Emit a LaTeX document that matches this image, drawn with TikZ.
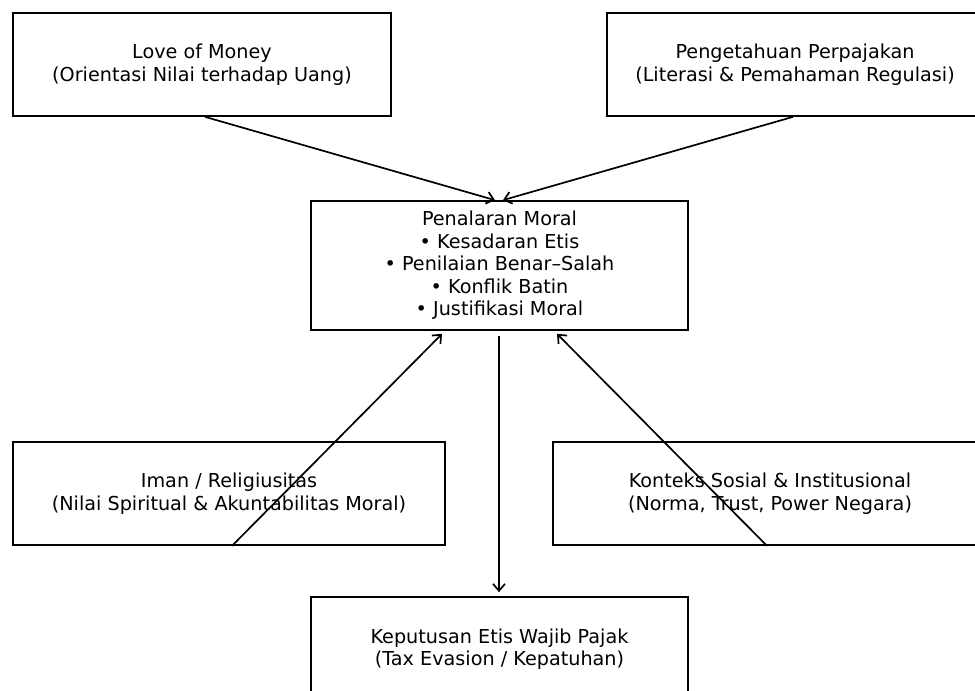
\documentclass[tikz,border=0pt]{standalone}
\usepackage{fontspec}
\setmainfont{DejaVu Sans}
\usetikzlibrary{arrows.meta}
\begin{document}
\begin{tikzpicture}[x=1pt,y=-1pt,
  box/.style={draw=black, line width=1.7pt, rectangle, align=center, inner sep=0pt,
    font=\fontsize{19.2}{22.5}\selectfont},
  conn/.style={line width=1.7pt, -{Straight Barb[length=7pt,width=12pt,line width=1.7pt]}}]
\useasboundingbox (0,0) rectangle (975,691);
\node[box, minimum width=378pt, minimum height=103pt] (love) at (202,64.5)
  {Love of Money\\(Orientasi Nilai terhadap Uang)};
\node[box, minimum width=376pt, minimum height=103pt] (tax) at (795,64.5)
  {Pengetahuan Perpajakan\\(Literasi \& Pemahaman Regulasi)};
\node[box, minimum width=377pt, minimum height=129pt] (moral) at (499.5,265.5)
  {Penalaran Moral\\• Kesadaran Etis\\• Penilaian Benar–Salah\\• Konflik Batin\\• Justifikasi Moral};
\node[box, minimum width=432pt, minimum height=103pt] (iman) at (229,493.5)
  {Iman / Religiusitas\\(Nilai Spiritual \& Akuntabilitas Moral)};
\node[box, minimum width=434pt, minimum height=103pt] (ctx) at (770,493.5)
  {Konteks Sosial \& Institusional\\(Norma, Trust, Power Negara)};
\node[box, minimum width=377pt, minimum height=104pt] (dec) at (499.5,649)
  {Keputusan Etis Wajib Pajak\\(Tax Evasion / Kepatuhan)};
\draw[conn] ([xshift=3pt]love.south) -- ([xshift=-4.5pt]moral.north);
\draw[conn] ([xshift=-2pt]tax.south) -- ([xshift=3.5pt]moral.north);
\draw[conn] ([xshift=3pt]iman.south) -- ([xshift=-57.5pt,yshift=-3pt]moral.south);
\draw[conn] ([xshift=-3pt]ctx.south) -- ([xshift=57.5pt,yshift=-3pt]moral.south);
\draw[conn] ([xshift=-0.5pt,yshift=-5pt]moral.south) -- ([xshift=-0.5pt,yshift=4pt]dec.north);
\end{tikzpicture}
\end{document}
